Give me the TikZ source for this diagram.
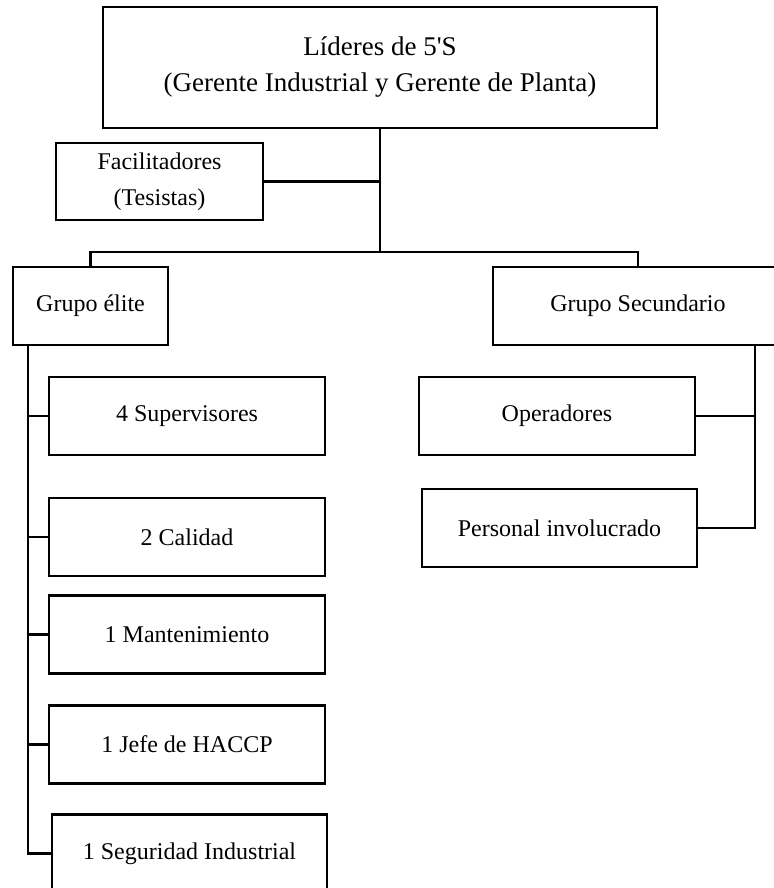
\documentclass[tikz,border=0pt]{standalone}
\usepackage{fontspec}
\setmainfont{Liberation Serif}

\begin{document}
\begin{tikzpicture}[x=1pt,y=-1pt,line cap=rect,
  box/.style={draw,line width=2.4pt,inner sep=0pt,align=center,
    font=\fontsize{24}{36}\selectfont,minimum width=276pt,minimum height=78pt},
  link/.style={line width=2.4pt}]
\useasboundingbox (0,0) rectangle (773,888);
\node[box,minimum width=554pt,minimum height=121pt,font=\fontsize{27}{36}\selectfont]
  (lideres) at (380,67.5)
  {Líderes de 5\textquotesingle S\\(Gerente Industrial y Gerente de Planta)};
\node[box,minimum width=207pt,minimum height=77pt] (facil) at (159.5,181.5)
  {Facilitadores\\(Tesistas)};
\node[box,minimum width=155pt] (elite) at (90.5,306) {Grupo élite};
\node[box,minimum width=290pt] (secund) at (638,306) {Grupo Secundario};
\node[box] (sup) at (187,416) {4 Supervisores};
\node[box] (cal) at (187,537) {2 Calidad};
\node[box] (mant) at (187,634.5) {1 Mantenimiento};
\node[box] (jefe) at (187,744.5) {1 Jefe de HACCP};
\node[box,minimum width=275pt] (segu) at (189.5,853.5) {1 Seguridad Industrial};
\node[box] (oper) at (557,416) {Operadores};
\node[box,minimum width=275pt] (pers) at (559.5,528) {Personal involucrado};
\coordinate (hub) at (380,252);
\coordinate (lbus) at (28,345);
\coordinate (rbus) at (755,345);
\draw[link] (lideres.south) -- (hub);
\draw[link] (facil.east) -- (facil.east -| hub);
\draw[link] (elite.north) |- (hub) -| (secund.north);
\draw[link] (lbus) |- (segu.west);
\foreach \n in {sup,cal,mant,jefe}
  \draw[link] (\n.west) -- (\n.west -| lbus);
\draw[link] (rbus) |- (pers.east);
\draw[link] (oper.east) -- (oper.east -| rbus);
\end{tikzpicture}
\end{document}
